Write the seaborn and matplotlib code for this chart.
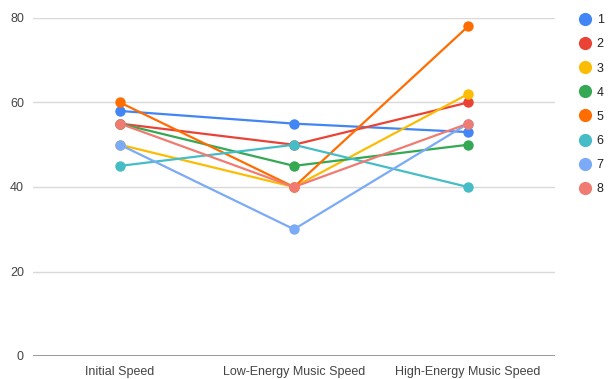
import matplotlib
matplotlib.use("Agg")
import matplotlib.pyplot as plt
from matplotlib.lines import Line2D
import seaborn as sns
import pandas as pd

categories = ["Initial Speed", "Low-Energy Music Speed", "High-Energy Music Speed"]
series_names = ["1", "2", "3", "4", "5", "6", "7", "8"]
s1 = [58, 55, 53]
s2 = [55, 50, 60]
s3 = [50, 40, 62]
s4 = [55, 45, 50]
s5 = [60, 40, 78]
s6 = [45, 50, 40]
s7 = [50, 30, 55]
s8 = [55, 40, 55]
series_values = [s1, s2, s3, s4, s5, s6, s7, s8]
y_ticks = [0, 20, 40, 60, 80]

colors = ["#4285F4", "#EA4335", "#FBBC04", "#34A853", "#FF6D01",
          "#46BDC6", "#7BAAF7", "#F07B72"]

rows = []
for name, vals in zip(series_names, series_values):
    for i, (c, v) in enumerate(zip(categories, vals)):
        rows.append({"x": i, "category": c, "series": name, "value": v})
df = pd.DataFrame(rows)

sns.set_style("white")
plt.rcParams['font.family'] = ['Liberation Sans', 'DejaVu Sans']

fig = plt.figure(figsize=(6.09, 3.79), dpi=100)
ax = fig.add_axes([33/609, 1-356/379, (555-33)/609, (356-18)/379])

sns.lineplot(data=df, x="x", y="value", hue="series", hue_order=series_names,
             palette=colors, marker="o", markersize=7.5, markeredgewidth=0,
             linewidth=1.6, legend=False, ax=ax, sort=False)

ax.set_xlim(-0.5, 2.5)
ax.set_ylim(0, 80)
ax.set_yticks(y_ticks)
ax.set_xticks(range(len(categories)))
ax.set_xticklabels(categories)
ax.set_xlabel("")
ax.set_ylabel("")
ax.tick_params(axis="both", length=0, labelsize=9, colors="#444444")
ax.tick_params(axis="y", pad=6.5)
ax.tick_params(axis="x", pad=7)
ax.grid(axis="y", color="#D9D9D9", linewidth=1)
ax.set_axisbelow(True)
for s in ax.spines.values():
    s.set_visible(False)
ax.axhline(0, color="#888888", linewidth=1.2, zorder=1)

handles = [Line2D([0], [0], marker="o", color="none", markerfacecolor=c,
                  markeredgewidth=0, markersize=9.5) for c in colors]
fig.legend(handles, series_names, loc="upper left",
           bbox_to_anchor=(566/609, 1-3/379), frameon=False, fontsize=9,
           labelspacing=0.97, handletextpad=0.35, handlelength=1.2,
           labelcolor="#222222")

fig.savefig("out.png", dpi=100)
